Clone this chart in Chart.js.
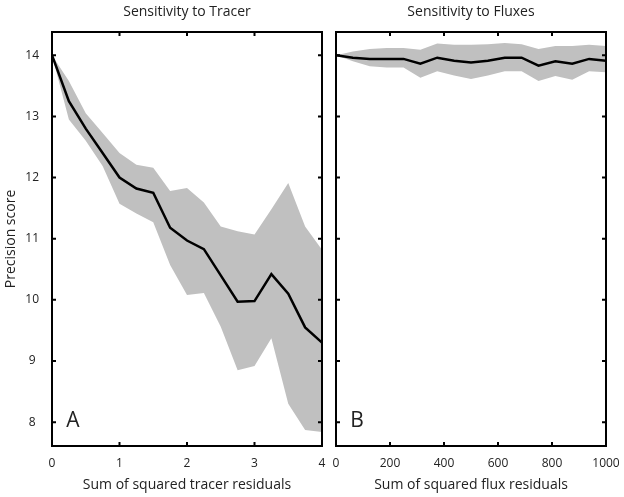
<!DOCTYPE html>
<html>
<head>
<meta charset="utf-8">
<title>Sensitivity</title>
<script src="https://cdn.jsdelivr.net/npm/chart.js@4.4.0/dist/chart.umd.min.js"></script>
<style>
    html, body { margin: 0; padding: 0; background: #fff; }
    #wrap { position: relative; width: 624px; height: 497px; }
    .panel { position: absolute; top: 0; height: 497px; }
    #panelA { left: 0; width: 330px; }
    #panelB { left: 330px; width: 294px; }
</style>
</head>
<body>
<div id="wrap">
    <div class="panel" id="panelA"><canvas id="tracerChart"></canvas></div>
    <div class="panel" id="panelB"><canvas id="fluxChart"></canvas></div>
</div>
<script>
// Panel A: tracer residuals
const tracerX = [0, 0.25, 0.5, 0.75, 1, 1.25, 1.5, 1.75, 2, 2.25, 2.5, 2.75, 3, 3.25, 3.5, 3.75, 4];
const tracerMean = [14.0, 13.25, 12.8, 12.4, 12.0, 11.82, 11.75, 11.18, 10.97, 10.83, 10.4, 9.97, 9.98, 10.42, 10.1, 9.55, 9.3];
const tracerUpper = [14.0, 13.58, 13.05, 12.73, 12.4, 12.21, 12.16, 11.78, 11.83, 11.59, 11.2, 11.12, 11.07, 11.48, 11.91, 11.2, 10.82];
const tracerLower = [14.0, 12.95, 12.6, 12.19, 11.57, 11.41, 11.27, 10.57, 10.08, 10.11, 9.56, 8.85, 8.92, 9.37, 8.3, 7.87, 7.84];

// Panel B: flux residuals
const fluxX = [0, 62.5, 125, 187.5, 250, 312.5, 375, 437.5, 500, 562.5, 625, 687.5, 750, 812.5, 875, 937.5, 1000];
const fluxMean = [14.0, 13.96, 13.94, 13.94, 13.94, 13.86, 13.96, 13.91, 13.88, 13.91, 13.96, 13.96, 13.83, 13.9, 13.86, 13.94, 13.91];
const fluxUpper = [14.0, 14.06, 14.1, 14.12, 14.12, 14.09, 14.19, 14.17, 14.17, 14.18, 14.2, 14.18, 14.1, 14.15, 14.15, 14.17, 14.15];
const fluxLower = [14.0, 13.9, 13.82, 13.8, 13.8, 13.63, 13.74, 13.67, 13.61, 13.67, 13.74, 13.74, 13.58, 13.66, 13.6, 13.74, 13.72];

// tick labels
const yTicks = [8, 9, 10, 11, 12, 13, 14];
const tracerTicks = [0, 1, 2, 3, 4];
const fluxTicks = [0, 200, 400, 600, 800, 1000];

const FONT = '"Open Sans", Lato, sans-serif';
const TEXT_COLOR = '#222';
const BAND_COLOR = '#c0c0c0';
const Y_MIN = 7.61;
const Y_MAX = 14.38;

function toPoints(xs, ys) {
    return xs.map((x, i) => ({ x: x, y: ys[i] }));
}

// force axis box size so both plot areas land where the reference has them
function fixSize(prop, size) {
    return function (scale) {
        scale[prop] = size;
        scale.paddingLeft = 0;
        scale.paddingRight = 0;
        scale.paddingTop = 0;
        scale.paddingBottom = 0;
    };
}

// frame, inward tick marks and the panel letter
function makeFramePlugin(xTicks, letter) {
    return {
        id: 'frame',
        afterDraw(chart) {
            const { ctx, chartArea: a, scales } = chart;
            const len = 4;
            ctx.save();
            ctx.strokeStyle = '#000';
            ctx.lineWidth = 2;
            ctx.strokeRect(a.left, a.top, a.right - a.left, a.bottom - a.top);
            ctx.beginPath();
            xTicks.forEach(v => {
                const px = scales.x.getPixelForValue(v);
                if (px <= a.left + 1 || px >= a.right - 1) return;
                ctx.moveTo(px, a.bottom);
                ctx.lineTo(px, a.bottom - len);
                ctx.moveTo(px, a.top);
                ctx.lineTo(px, a.top + len);
            });
            yTicks.forEach(v => {
                const py = scales.y.getPixelForValue(v);
                ctx.moveTo(a.left, py);
                ctx.lineTo(a.left + len, py);
                ctx.moveTo(a.right, py);
                ctx.lineTo(a.right - len, py);
            });
            ctx.stroke();
            ctx.fillStyle = TEXT_COLOR;
            ctx.font = '21px ' + FONT;
            ctx.textAlign = 'center';
            ctx.textBaseline = 'middle';
            ctx.fillText(letter, a.left + 21, a.bottom - 25);
            ctx.restore();
        }
    };
}

function makeDatasets(xs, mean, upper, lower) {
    return [
        {
            label: 'mean',
            data: toPoints(xs, mean),
            borderColor: '#000',
            borderWidth: 2.5,
            pointRadius: 0,
            tension: 0,
            fill: false,
            order: 0
        },
        {
            label: 'upper',
            data: toPoints(xs, upper),
            borderColor: 'rgba(0,0,0,0)',
            borderWidth: 0,
            backgroundColor: BAND_COLOR,
            pointRadius: 0,
            tension: 0,
            fill: '+1',
            order: 1
        },
        {
            label: 'lower',
            data: toPoints(xs, lower),
            borderColor: 'rgba(0,0,0,0)',
            borderWidth: 0,
            pointRadius: 0,
            tension: 0,
            fill: false,
            order: 2
        }
    ];
}

function makeOptions(cfg) {
    const tickFont = { family: FONT, size: 12 };
    const titleFont = { family: FONT, size: 14 };
    return {
        responsive: true,
        maintainAspectRatio: false,
        animation: false,
        layout: { padding: cfg.padding },
        plugins: {
            legend: { display: false },
            tooltip: { enabled: false }
        },
        scales: {
            x: {
                type: 'linear',
                position: 'bottom',
                min: cfg.xTicks[0],
                max: cfg.xTicks[cfg.xTicks.length - 1],
                grid: { display: false },
                border: { display: false },
                ticks: {
                    stepSize: cfg.xTicks[1] - cfg.xTicks[0],
                    padding: 2,
                    maxRotation: 0,
                    autoSkip: false,
                    font: tickFont,
                    color: TEXT_COLOR,
                    callback: value => String(value)
                },
                title: {
                    display: true,
                    text: cfg.xTitle,
                    font: titleFont,
                    color: TEXT_COLOR,
                    padding: { top: 0, bottom: 4 }
                },
                afterFit: fixSize('height', 51)
            },
            xTop: {
                type: 'linear',
                position: 'top',
                min: cfg.xTicks[0],
                max: cfg.xTicks[cfg.xTicks.length - 1],
                grid: { display: false },
                border: { display: false },
                ticks: { display: false },
                title: {
                    display: true,
                    text: cfg.title,
                    font: titleFont,
                    color: TEXT_COLOR,
                    padding: { top: 4, bottom: 0 }
                },
                afterFit: fixSize('height', 32)
            },
            y: {
                type: 'linear',
                position: 'left',
                display: cfg.yWidth > 0,
                min: Y_MIN,
                max: Y_MAX,
                grid: { display: false },
                border: { display: false },
                ticks: {
                    stepSize: 1,
                    includeBounds: false,
                    crossAlign: 'center',
                    padding: 5,
                    font: tickFont,
                    color: TEXT_COLOR
                },
                title: {
                    display: true,
                    text: 'Precision score',
                    font: titleFont,
                    color: TEXT_COLOR,
                    padding: { top: 3, bottom: 0 }
                },
                afterFit: fixSize('width', cfg.yWidth)
            }
        }
    };
}

// Panel A
new Chart(document.getElementById('tracerChart'), {
    type: 'line',
    data: { datasets: makeDatasets(tracerX, tracerMean, tracerUpper, tracerLower) },
    options: makeOptions({
        xTicks: tracerTicks,
        xTitle: 'Sum of squared tracer residuals',
        title: 'Sensitivity to Tracer',
        yWidth: 52,
        padding: { left: 0, right: 8, top: 0, bottom: 0 }
    }),
    plugins: [makeFramePlugin(tracerTicks, 'A')]
});

// Panel B
new Chart(document.getElementById('fluxChart'), {
    type: 'line',
    data: { datasets: makeDatasets(fluxX, fluxMean, fluxUpper, fluxLower) },
    options: makeOptions({
        xTicks: fluxTicks,
        xTitle: 'Sum of squared flux residuals',
        title: 'Sensitivity to Fluxes',
        yWidth: 0,
        padding: { left: 6, right: 18, top: 0, bottom: 0 }
    }),
    plugins: [makeFramePlugin(fluxTicks, 'B')]
});
</script>
</body>
</html>
